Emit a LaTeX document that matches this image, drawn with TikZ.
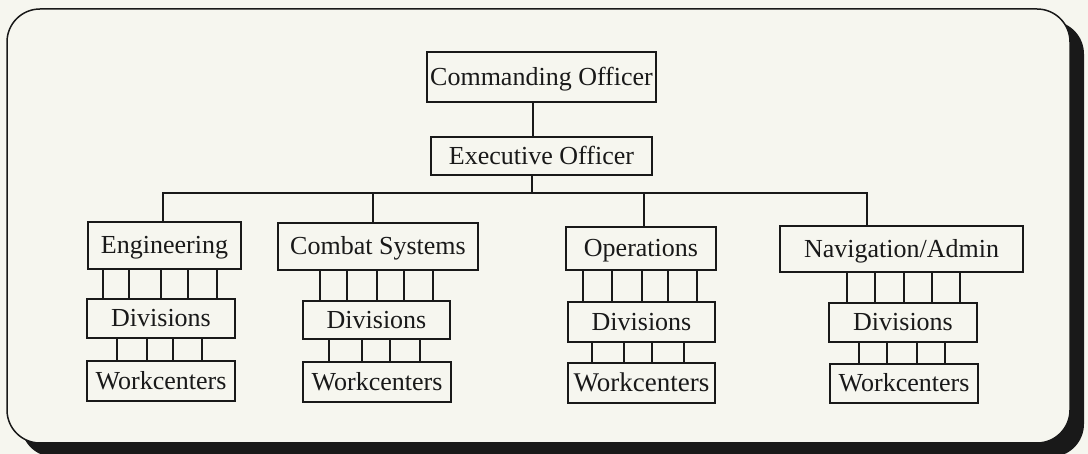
\documentclass[tikz,border=0pt]{standalone}
\usepackage{fontspec}
\setmainfont{Liberation Serif}
\definecolor{bg}{RGB}{246,246,239}
\definecolor{ink}{RGB}{25,25,25}
\newcommand\ties[3]{\foreach \d in {#3}{\path ([xshift=\d pt]#2.north) coordinate (tt); \draw[tie] (tt) -- (tt |- #1.south);}}
\begin{document}
\begin{tikzpicture}[x=1pt,y=-1pt,
  box/.style={draw=ink, line width=2.3pt, fill=bg, inner sep=0pt, text height=17pt, text depth=0pt,
              font=\fontsize{26}{30}\selectfont, text=ink},
  tie/.style={draw=ink, line width=2.3pt}]
\useasboundingbox (0,0) rectangle (1088,454);
\fill[bg] (0,0) rectangle (1088,454);
\begin{scope}
\clip (0,0) rectangle (1088,454);
\fill[ink, rounded corners=33pt] (21,21) rectangle (1084,457);
\end{scope}
\draw[ink, line width=1.5pt, fill=bg, rounded corners=33pt] (7,9) rectangle (1070,443);

% top
\node[box, minimum width=229pt, minimum height=50pt] (CO) at (541.5,77) {Commanding Officer};
\node[box, minimum width=221pt, minimum height=38pt] (XO) at (541.5,156) {Executive Officer};

% departments
\node[box, minimum width=153pt, minimum height=47pt] (Eng) at (164.5,245.5) {Engineering};
\node[box, minimum width=200pt, minimum height=47pt] (CS) at (378,246.5) {Combat Systems};
\node[box, minimum width=150pt, minimum height=43pt] (Ops) at (641,248.5) {Operations};
\node[box, minimum width=243pt, minimum height=46pt] (Nav) at (901.5,249) {Navigation/Admin};

% divisions
\node[box, minimum width=148pt, minimum height=39pt] (EngDiv) at (161,318.5) {Divisions};
\node[box, minimum width=147pt, minimum height=38pt] (CSDiv) at (376.5,320) {Divisions};
\node[box, minimum width=147pt, minimum height=40pt] (OpsDiv) at (641.5,322) {Divisions};
\node[box, minimum width=148pt, minimum height=39pt] (NavDiv) at (903,322.5) {Divisions};

% workcenters
\node[box, minimum width=148pt, minimum height=40pt] (EngWc) at (161,381) {Workcenters};
\node[box, minimum width=148pt, minimum height=40pt] (CSWc) at (377,382) {Workcenters};
\node[box, minimum width=147pt, minimum height=40pt, font=\fontsize{27}{31}\selectfont] (OpsWc) at (641.5,383) {Workcenters};
\node[box, minimum width=148pt, minimum height=39pt] (NavWc) at (904,383.5) {Workcenters};

% connectors
\coordinate (bus) at (532,193);
\draw[tie] ([xshift=-8.5pt]CO.south) -- ([xshift=-8.5pt]XO.north);
\draw[tie] ([xshift=-9.5pt]XO.south) -- (bus);
\coordinate (engT) at ([xshift=-1.5pt]Eng.north);
\coordinate (csT) at ([xshift=-5pt]CS.north);
\coordinate (opsT) at ([xshift=3pt]Ops.north);
\coordinate (navT) at ([xshift=-34.5pt]Nav.north);
\draw[tie] (engT) |- (bus) -| (navT);
\draw[tie] (csT) -- (csT |- bus);
\draw[tie] (opsT) -- (opsT |- bus);

\ties{Eng}{EngDiv}{-58,-32,0,27,56}
\ties{EngDiv}{EngWc}{-44,-14,12,41}
\ties{CS}{CSDiv}{-56.5,-29.5,0.5,27.5,56.5}
\ties{CSDiv}{CSWc}{-48,-15,13,43}
\ties{Ops}{OpsDiv}{-58.5,-29.5,0.5,26.5,55.5}
\ties{OpsDiv}{OpsWc}{-49.5,-17.5,10.5,42.5}
\ties{Nav}{NavDiv}{-56,-28,1,29,57}
\ties{NavDiv}{NavWc}{-45,-17,13,41}
\end{tikzpicture}
\end{document}
